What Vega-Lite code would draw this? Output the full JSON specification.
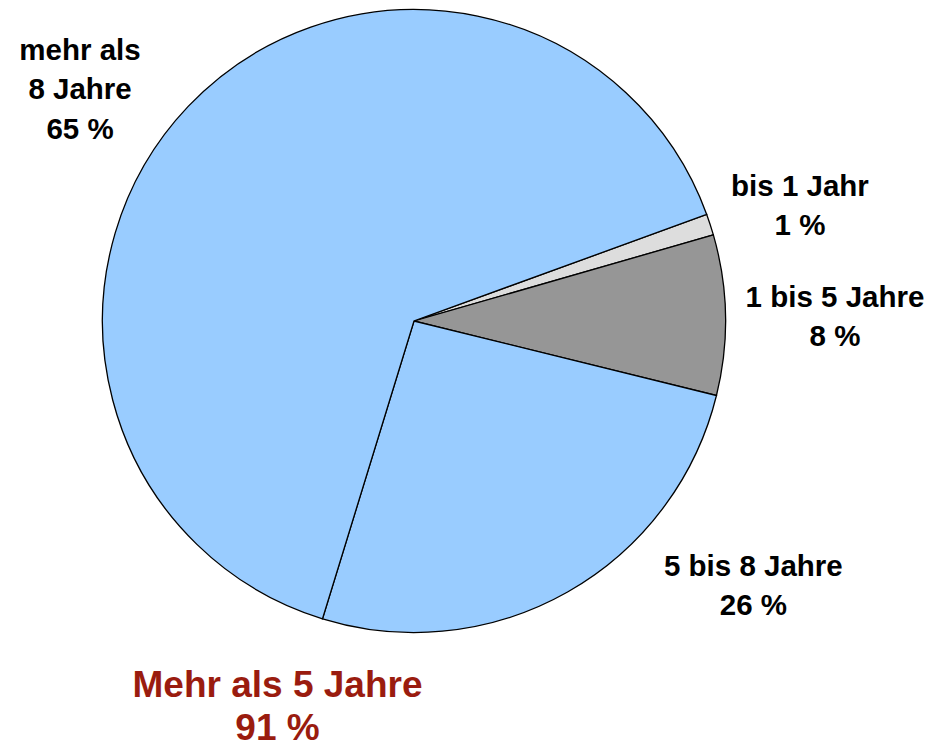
{
  "$schema": "https://vega.github.io/schema/vega-lite/v6.json",
  "width": 828,
  "height": 642,
  "autosize": "none",
  "padding": {"left": 0, "top": 0, "right": 109, "bottom": 107},
  "background": "white",
  "config": {"view": {"stroke": null}},
  "data": {
    "values": [
      {"kategorie": "bis 1 Jahr", "anteil": 1.1, "ord": 1, "label": "bis 1 Jahr\n1 %", "gruppe": ""},
      {"kategorie": "1 bis 5 Jahre", "anteil": 8.3, "ord": 2, "label": "1 bis 5 Jahre\n8 %", "gruppe": ""},
      {"kategorie": "5 bis 8 Jahre", "anteil": 25.9, "ord": 3, "label": "5 bis 8 Jahre\n26 %", "gruppe": "Mehr als 5 Jahre\n91 %"},
      {"kategorie": "mehr als 8 Jahre", "anteil": 64.7, "ord": 4, "label": "mehr als\n8 Jahre\n65 %", "gruppe": "Mehr als 5 Jahre\n91 %"}
    ]
  },
  "encoding": {
    "theta": {"field": "anteil", "type": "quantitative", "stack": true, "scale": {"range": [1.2217, 7.5049]}},
    "order": {"field": "ord", "type": "quantitative"}
  },
  "layer": [
    {
      "mark": {"type": "arc", "radius": 311.5, "stroke": "black", "strokeWidth": 1.3},
      "encoding": {
        "color": {
          "field": "kategorie", "type": "nominal", "legend": null,
          "scale": {"domain": ["bis 1 Jahr", "1 bis 5 Jahre", "5 bis 8 Jahre", "mehr als 8 Jahre"],
                    "range": ["#DDDDDD", "#969696", "#99CCFF", "#99CCFF"]}
        }
      }
    },
    {
      "mark": {"type": "text", "radius": 402.6, "thetaOffset": 0.026, "dy": -19.5, "font": "Liberation Sans", "fontWeight": "bold", "fontSize": 29.5, "lineHeight": 39, "lineBreak": "\n", "align": "center", "baseline": "middle", "color": "black"},
      "encoding": {
        "detail": {"field": "kategorie", "type": "nominal"},
        "text": {"condition": {"test": "datum.kategorie === 'bis 1 Jahr'", "field": "label"}, "value": ""}
      }
    },
    {
      "mark": {"type": "text", "radius": 421, "thetaOffset": 0.01, "dy": -19.5, "font": "Liberation Sans", "fontWeight": "bold", "fontSize": 29.5, "lineHeight": 39, "lineBreak": "\n", "align": "center", "baseline": "middle", "color": "black"},
      "encoding": {
        "detail": {"field": "kategorie", "type": "nominal"},
        "text": {"condition": {"test": "datum.kategorie === '1 bis 5 Jahre'", "field": "label"}, "value": ""}
      }
    },
    {
      "mark": {"type": "text", "radius": 431, "thetaOffset": -0.391, "dy": -19.5, "font": "Liberation Sans", "fontWeight": "bold", "fontSize": 29.5, "lineHeight": 39, "lineBreak": "\n", "align": "center", "baseline": "middle", "color": "black"},
      "encoding": {
        "detail": {"field": "kategorie", "type": "nominal"},
        "text": {"condition": {"test": "datum.kategorie === '5 bis 8 Jahre'", "field": "label"}, "value": ""}
      }
    },
    {
      "mark": {"type": "text", "radius": 406, "thetaOffset": -0.155, "dy": -39.5, "font": "Liberation Sans", "fontWeight": "bold", "fontSize": 29.5, "lineHeight": 39.5, "lineBreak": "\n", "align": "center", "baseline": "middle", "color": "black"},
      "encoding": {
        "detail": {"field": "kategorie", "type": "nominal"},
        "text": {"condition": {"test": "datum.kategorie === 'mehr als 8 Jahre'", "field": "label"}, "value": ""}
      }
    },
    {
      "mark": {"type": "text", "radius": 410, "thetaOffset": 0.855, "dy": -21.5, "font": "Liberation Sans", "fontWeight": "bold", "fontSize": 37, "lineHeight": 43, "lineBreak": "\n", "align": "center", "baseline": "middle", "color": "#9A1C0F"},
      "encoding": {
        "detail": {"field": "kategorie", "type": "nominal"},
        "text": {"condition": {"test": "datum.kategorie === '5 bis 8 Jahre'", "field": "gruppe"}, "value": ""}
      }
    }
  ]
}
